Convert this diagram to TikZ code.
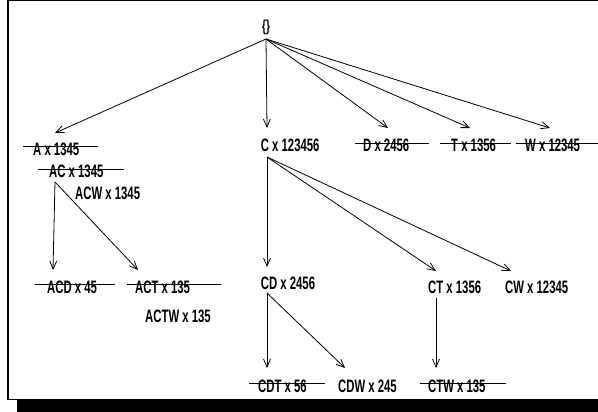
\documentclass[tikz,border=0pt]{standalone}
\usepackage{fontspec}
\newfontfamily\lblfont[FakeStretch=0.63]{Liberation Sans Bold}
\usetikzlibrary{arrows.meta}

\tikzset{
    lbl/.style={anchor=base west, inner sep=0pt, font=\lblfont\fontsize{18}{20}\selectfont},
    edge/.style={-{Straight Barb[length=8pt,width=7pt]}, line width=0.8pt},
    strike/.style={line width=0.9pt},
}
% line through a pruned label: node, overhang left, overhang right
\newcommand{\crossout}[3]{%
    \draw[strike] ([xshift=-#2pt,yshift=9pt]#1.base west) -- ([xshift=#3pt,yshift=9pt]#1.base east);}

\begin{document}
\begin{tikzpicture}[x=1pt, y=-1pt]
    \useasboundingbox (0,0) rectangle (598,412);
    % frame and shadow
    \draw[line width=1.5pt] (600,399.3) -- (8,399.3) -- (8,0.7) -- (600,0.7);
    \fill (17,400) rectangle (598,412);

    \node[inner sep=0pt, font=\lblfont\fontsize{16}{18}\selectfont] (root) at (266,27) {\{\}};
    \coordinate (root-out) at (266,39);

    % first level
    \coordinate (a-in) at (55,133);
    \coordinate (c-in) at (267,128);
    \coordinate (d-in) at (388,128);
    \coordinate (t-in) at (470,128);
    \coordinate (w-in) at (550,128);
    \node[lbl] (a) at (33,155) {A x 1345};
    \node[lbl] (ac) at (49,178) {AC x 1345};
    \node[lbl] (acw) at (75,200) {ACW x 1345};
    \node[lbl] (c) at (260.7,152) {C x 123456};
    \node[lbl] (d) at (363,152) {D x 2456};
    \node[lbl] (t) at (451,152) {T x 1356};
    \node[lbl] (w) at (525,152) {W x 12345};
    \coordinate (a-out) at (55,182);
    \coordinate (c-out) at (267,157);

    % second level
    \coordinate (acd-in) at (53,270);
    \coordinate (act-in) at (138,270);
    \coordinate (cd-in) at (267,267);
    \coordinate (ct-in) at (436,271);
    \coordinate (cw-in) at (511,271);
    \node[lbl] (acd) at (47,293) {ACD x 45};
    \node[lbl] (act) at (135,293) {ACT x 135};
    \node[lbl] (actw) at (145,322) {ACTW x 135};
    \node[lbl] (cd) at (260.7,289) {CD x 2456};
    \node[lbl] (ct) at (428,293) {CT x 1356};
    \node[lbl] (cw) at (505,293) {CW x 12345};
    \coordinate (cd-out) at (267,293);
    \coordinate (ct-out) at (436,298);

    % third level
    \coordinate (cdt-in) at (267,368);
    \coordinate (cdw-in) at (345,368);
    \coordinate (ctw-in) at (436,368);
    \node[lbl] (cdt) at (258,392) {CDT x 56};
    \node[lbl] (cdw) at (338,392.5) {CDW x 245};
    \node[lbl] (ctw) at (428,392) {CTW x 135};

    \draw[edge] (root-out) to (a-in);
    \draw[edge] (root-out) to (c-in);
    \draw[edge] (root-out) to (d-in);
    \draw[edge] (root-out) to (t-in);
    \draw[edge] (root-out) to (w-in);
    \draw[edge] (a-out) to (acd-in);
    \draw[edge] (a-out) to (act-in);
    \draw[edge] (c-out) to (cd-in);
    \draw[edge] (c-out) to (ct-in);
    \draw[edge] (c-out) to (cw-in);
    \draw[edge] (cd-out) to (cdt-in);
    \draw[edge] (cd-out) to (cdw-in);
    \draw[edge] (ct-out) to (ctw-in);

    \crossout{a}{10}{19}
    \crossout{ac}{11}{20}
    \crossout{d}{8}{20}
    \crossout{t}{11}{15}
    \crossout{w}{9}{25}
    \crossout{acd}{12}{18}
    \crossout{act}{8}{31}
    \crossout{cdt}{9}{18}
    \crossout{ctw}{8}{20}
\end{tikzpicture}
\end{document}
